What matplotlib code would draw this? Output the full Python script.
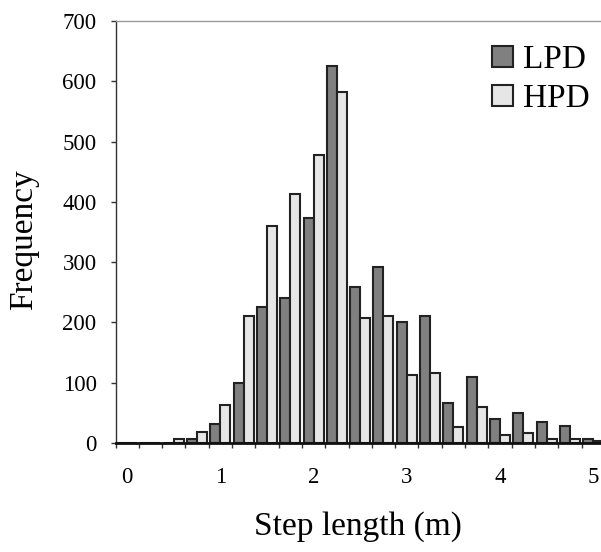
import numpy as np
import matplotlib.pyplot as plt
from matplotlib.patches import Patch

plt.rcParams['font.family'] = ['Liberation Serif', 'DejaVu Serif']

# step length classes (m), one category every 0.25 m
step_bins = [0, 0.25, 0.5, 0.75, 1.0, 1.25, 1.5, 1.75, 2.0, 2.25, 2.5,
             2.75, 3.0, 3.25, 3.5, 3.75, 4.0, 4.25, 4.5, 4.75, 5.0]
lpd = [0, 0, 0, 7, 31, 99, 226, 241, 374, 625, 258,
       292, 201, 211, 67, 109, 39, 49, 35, 28, 6]
hpd = [0, 0, 7, 18, 63, 211, 360, 413, 478, 583, 208,
       211, 113, 116, 27, 60, 14, 17, 6, 6, 4]
tick_labels = ['0', '1', '2', '3', '4', '5']

W, H = 601, 552
fig = plt.figure(figsize=(W / 100, H / 100), dpi=100)
# plot area runs past the right edge of the picture, like the original
ax = fig.add_axes([115.5 / W, (H - 443) / H, 489.3 / W, 422 / H])

x = np.arange(len(step_bins))
bw = 0.43
dark = '#808080'
light = '#e6e6e6'
edge = '#222222'
ax.bar(x - bw, lpd, width=bw, align='edge', color=dark, edgecolor=edge, linewidth=1.5, zorder=2)
ax.bar(x, hpd, width=bw, align='edge', color=light, edgecolor=edge, linewidth=1.5, zorder=2)

ax.set_xlim(-0.5, len(step_bins) - 0.5)
ax.set_ylim(0, 700)

# x: labels every 1 m, tick marks on category borders
ax.set_xticks(x[::4])
ax.set_xticklabels(tick_labels)
ax.set_xticks(np.arange(len(step_bins) + 1) - 0.5, minor=True)
ax.tick_params(axis='x', which='major', length=0, pad=17, labelsize=16.5)
ax.tick_params(axis='x', which='minor', length=3.6, width=1, color='#333333', direction='out')

ax.set_yticks(np.arange(0, 701, 100))
ax.tick_params(axis='y', length=3.6, width=1, color='#333333', direction='out', pad=10, labelsize=16.5)

ax.spines['left'].set_color('#333333')
ax.spines['left'].set_linewidth(1.0)
ax.spines['top'].set_color('#999999')
ax.spines['top'].set_linewidth(1.0)
ax.spines['right'].set_visible(False)
ax.spines['bottom'].set_color('#111111')
ax.spines['bottom'].set_linewidth(2.0)
ax.spines['bottom'].set_zorder(3)

fig.text(24 / W, 1 - 240 / H, 'Frequency', rotation=90, ha='center', va='center', fontsize=24)
fig.text(358 / W, 1 - 527 / H, 'Step length (m)', ha='center', va='center', fontsize=24)

handles = [Patch(facecolor=dark, edgecolor=edge, linewidth=1.5, label='LPD'),
           Patch(facecolor=light, edgecolor=edge, linewidth=1.5, label='HPD')]
ax.legend(handles=handles, loc='upper left', bbox_to_anchor=(492 / W, 1 - 45 / H),
          bbox_transform=fig.transFigure, frameon=False, fontsize=24,
          borderpad=0, borderaxespad=0, handlelength=0.64, handleheight=0.6,
          handletextpad=0.3, labelspacing=0.25)

fig.savefig('out.png', dpi=100)
